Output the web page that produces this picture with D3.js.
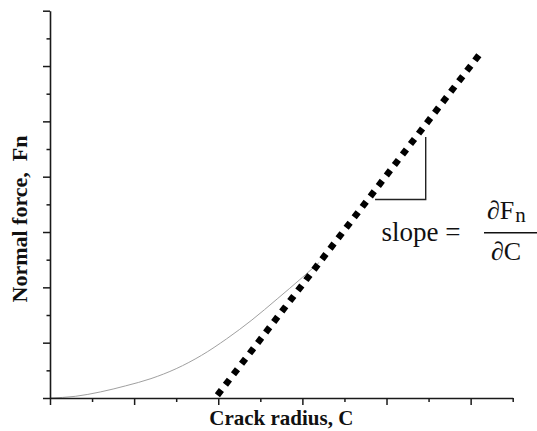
<!DOCTYPE html>
<html>
<head>
<meta charset="utf-8">
<script src="https://cdn.jsdelivr.net/npm/d3@7"></script>
<style>
  html, body { margin: 0; padding: 0; background: #fff; }
  svg { display: block; }
</style>
</head>
<body>
<script>
// ---- data ----
const xDomain = [0, 5.5];
const yDomain = [0, 7];
const xMajorTicks = [0, 1, 2, 3, 4, 5];
const xMinorTicks = [0.5, 1.5, 2.5, 3.5, 4.5, 5.5];
const yMajorTicks = [0, 1, 2, 3, 4, 5, 6, 7];
const yMinorTicks = [0.5, 1.5, 2.5, 3.5, 4.5, 5.5, 6.5];
// measured force-vs-radius curve (thin gray)
const curveX = [0, 0.3, 0.6, 0.9, 1.2, 1.5, 1.8, 2.1, 2.4, 2.7, 3.0, 3.2];
const curveY = [0, 0.03, 0.11, 0.22, 0.35, 0.53, 0.77, 1.07, 1.41, 1.79, 2.18, 2.45];
// tangent (dotted) line
const tangentX = [1.99, 5.1];
const tangentY = [0.05, 6.2];
// slope triangle
const triX = [3.864, 4.466, 4.466];
const triY = [3.587, 3.587, 4.717];
const xLabel = "Crack radius, C";
const yLabel = "Normal force,\u00a0 Fn";

// ---- layout ----
const W = 537, H = 431;
const svg = d3.select("body").append("svg").attr("width", W).attr("height", H);
const x = d3.scaleLinear().domain(xDomain).range([50, 512.7]);
const y = d3.scaleLinear().domain(yDomain).range([398, 10.7]);
const axisColor = "#1a1a1a";

// curve
const curvePts = curveX.map((v, i) => [v, curveY[i]]);
svg.append("path")
  .datum(curvePts)
  .attr("d", d3.line().x(d => x(d[0])).y(d => y(d[1])).curve(d3.curveMonotoneX))
  .attr("fill", "none").attr("stroke", "#a0a0a0").attr("stroke-width", 1);

// axes
function styleAxis(g) {
  g.selectAll("line").attr("stroke", axisColor).attr("stroke-width", 1.5);
  g.selectAll("path").attr("stroke", axisColor).attr("stroke-width", 1.6);
  g.selectAll("text").remove();
}
svg.append("g").attr("transform", `translate(0,${y(0)})`)
  .call(d3.axisBottom(x).tickValues(xMajorTicks).tickSize(7).tickSizeOuter(0).tickFormat(""))
  .call(styleAxis);
svg.append("g").attr("transform", `translate(0,${y(0)})`)
  .call(d3.axisBottom(x).tickValues(xMinorTicks).tickSize(4).tickSizeOuter(0).tickFormat(""))
  .call(g => g.select(".domain").remove())
  .call(styleAxis);
svg.append("g").attr("transform", `translate(${x(0)},0)`)
  .call(d3.axisLeft(y).tickValues(yMajorTicks).tickSize(7).tickSizeOuter(0).tickFormat(""))
  .call(styleAxis);
svg.append("g").attr("transform", `translate(${x(0)},0)`)
  .call(d3.axisLeft(y).tickValues(yMinorTicks).tickSize(3.5).tickSizeOuter(0).tickFormat(""))
  .call(g => g.select(".domain").remove())
  .call(styleAxis);

// tangent dotted line
const tanPts = tangentX.map((v, i) => [v, tangentY[i]]);
svg.append("path")
  .datum(tanPts)
  .attr("d", d3.line().x(d => x(d[0])).y(d => y(d[1])))
  .attr("fill", "none").attr("stroke", "#000")
  .attr("stroke-width", 6.5).attr("stroke-dasharray", "6.5 6.7");

// slope triangle
const triPts = triX.map((v, i) => [v, triY[i]]);
svg.append("path")
  .datum(triPts)
  .attr("d", d3.line().x(d => x(d[0])).y(d => y(d[1])))
  .attr("fill", "none").attr("stroke", "#222").attr("stroke-width", 1.4);

// slope annotation
const serif = "'Liberation Serif', 'Times New Roman', serif";
svg.append("text").attr("x", 381.5).attr("y", 241)
  .attr("font-family", serif).attr("font-size", 27).attr("fill", "#111")
  .text("slope =");
svg.append("line").attr("x1", 484).attr("x2", 537).attr("y1", 232.7).attr("y2", 232.7)
  .attr("stroke", "#111").attr("stroke-width", 1.6);
const num = svg.append("text").attr("x", 487).attr("y", 218.5)
  .attr("font-family", serif).attr("font-size", 26).attr("fill", "#111");
num.append("tspan").text("\u2202F");
num.append("tspan").attr("font-size", 21).attr("dy", 3).attr("dx", 1).text("n");
svg.append("text").attr("x", 491).attr("y", 260)
  .attr("font-family", serif).attr("font-size", 26).attr("fill", "#111")
  .text("\u2202C");

// axis labels
svg.append("text").attr("x", (x(0) + x(5.5)) / 2).attr("y", 425)
  .attr("text-anchor", "middle")
  .attr("font-family", serif).attr("font-weight", "bold").attr("font-size", 21).attr("fill", "#111")
  .text(xLabel);
svg.append("text")
  .attr("transform", "translate(27,219) rotate(-90)")
  .attr("text-anchor", "middle")
  .attr("font-family", serif).attr("font-weight", "bold").attr("font-size", 22).attr("fill", "#111")
  .text(yLabel);
</script>
</body>
</html>
